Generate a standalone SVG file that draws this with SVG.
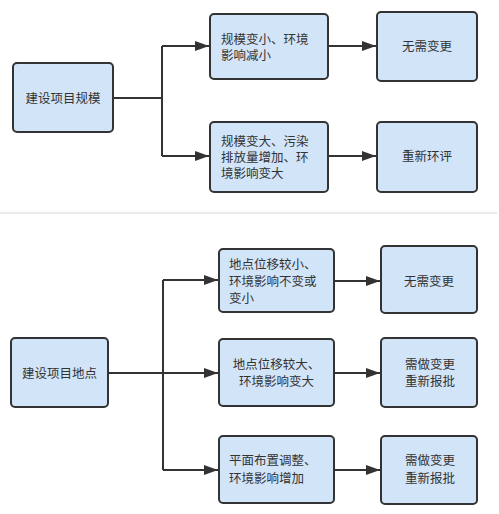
<svg xmlns="http://www.w3.org/2000/svg" width="499" height="514" viewBox="0 0 499 514">
<style>
.box{fill:#d2e4f8;stroke:#333;stroke-width:2}
.t{font-family:"Liberation Sans","Noto Sans CJK SC",sans-serif;font-size:12.5px;fill:#333}
.c{text-anchor:middle}
.ln{fill:none;stroke:#333;stroke-width:2}
</style>
<defs>
<marker id="ah" markerWidth="14" markerHeight="10" refX="14" refY="5" orient="auto" markerUnits="userSpaceOnUse">
<path d="M0,0 L14,5 L0,10 Z" fill="#333"/>
</marker>
</defs>
<rect width="499" height="514" fill="#fff"/>
<line x1="0" y1="213" x2="497" y2="213" stroke="#e4e4e4" stroke-width="1.5"/>
<g id="connectors">
<path class="ln" d="M113,98 H162 M162,46 V156"/>
<path class="ln" d="M162,46 H209" marker-end="url(#ah)"/>
<path class="ln" d="M162,156 H209" marker-end="url(#ah)"/>
<path class="ln" d="M328,46 H376" marker-end="url(#ah)"/>
<path class="ln" d="M328,156 H376" marker-end="url(#ah)"/>
<path class="ln" d="M163,280 V470"/>
<path class="ln" d="M163,280 H218" marker-end="url(#ah)"/>
<path class="ln" d="M108,373 H218" marker-end="url(#ah)"/>
<path class="ln" d="M163,470 H218" marker-end="url(#ah)"/>
<path class="ln" d="M334,281 H380" marker-end="url(#ah)"/>
<path class="ln" d="M334,373 H380" marker-end="url(#ah)"/>
<path class="ln" d="M334,470 H380" marker-end="url(#ah)"/>
</g>
<g id="n1"><rect class="box" x="13" y="63" width="100" height="69" rx="4"/><text class="t c" x="63" y="103">建设项目规模</text></g>
<g id="n2"><rect class="box" x="210" y="14" width="118" height="65" rx="4"/><text class="t" x="221" y="44">规模变小、环境</text><text class="t" x="221" y="60">影响减小</text></g>
<g id="n3"><rect class="box" x="377" y="12" width="100" height="69" rx="4"/><text class="t c" x="427" y="51">无需变更</text></g>
<g id="n4"><rect class="box" x="210" y="122" width="118" height="70" rx="4"/><text class="t" x="221" y="146">规模变大、污染</text><text class="t" x="221" y="162">排放量增加、环</text><text class="t" x="221" y="178">境影响变大</text></g>
<g id="n5"><rect class="box" x="377" y="122" width="100" height="70" rx="4"/><text class="t c" x="427" y="161">重新环评</text></g>
<g id="n6"><rect class="box" x="11" y="338" width="97" height="69" rx="4"/><text class="t c" x="59.5" y="378">建设项目地点</text></g>
<g id="n7"><rect class="box" x="219" y="249" width="115" height="63" rx="4"/><text class="t" x="229" y="269">地点位移较小、</text><text class="t" x="229" y="286">环境影响不变或</text><text class="t" x="229" y="303">变小</text></g>
<g id="n8"><rect class="box" x="381" y="246" width="96" height="67" rx="4"/><text class="t c" x="429" y="286">无需变更</text></g>
<g id="n9"><rect class="box" x="219" y="339" width="115" height="67" rx="4"/><text class="t c" x="276.5" y="369">地点位移较大、</text><text class="t c" x="276.5" y="386">环境影响变大</text></g>
<g id="n10"><rect class="box" x="381" y="338" width="96" height="69" rx="4"/><text class="t c" x="430" y="369">需做变更</text><text class="t c" x="430" y="386">重新报批</text></g>
<g id="n11"><rect class="box" x="219" y="436" width="115" height="67" rx="4"/><text class="t" x="229" y="465">平面布置调整、</text><text class="t" x="229" y="483">环境影响增加</text></g>
<g id="n12"><rect class="box" x="381" y="436" width="96" height="68" rx="4"/><text class="t c" x="430" y="465">需做变更</text><text class="t c" x="430" y="483">重新报批</text></g>
</svg>
